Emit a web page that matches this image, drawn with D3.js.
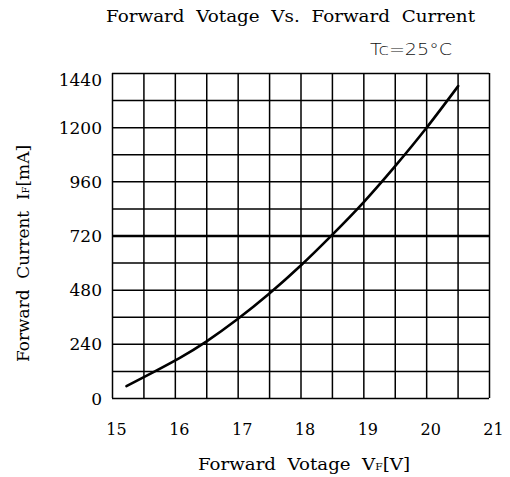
<!DOCTYPE html>
<html>
<head>
<meta charset="utf-8">
<script src="https://cdn.jsdelivr.net/npm/d3@7"></script>
<style>
  html, body { margin: 0; padding: 0; background: #fff; }
  svg { display: block; }
</style>
</head>
<body>
<svg id="chart" width="510" height="477"></svg>
<script>
// Data
const voltage = [15.23, 15.66, 16.08, 16.5, 17.0, 17.5, 18.0, 18.5, 19.0, 19.5, 20.0, 20.51];
const current = [53, 115, 178, 250, 350, 462, 586, 722, 866, 1025, 1195, 1382];
const xTickLabels = [15, 16, 17, 18, 19, 20, 21];
const yTickLabels = [0, 240, 480, 720, 960, 1200, 1440];
const xGrid = d3.range(15, 21.01, 0.5);
const yGrid = d3.range(0, 1441, 120);

(function () {
const svg = d3.select("#chart");
const pL = 112, pR = 489, pT = 73, pB = 398;

const x = d3.scaleLinear().domain([15, 21]).range([pL, pR]);
const y = d3.scaleLinear().domain([0, 1440]).range([pB, pT]);

const serif = "'DejaVu Serif', 'Liberation Serif', serif";

// Grid
const gx = svg.append("g").attr("transform", `translate(0,${pB})`)
  .call(d3.axisBottom(x).tickValues(xGrid).tickSize(-(pB - pT)).tickFormat(""));
gx.select(".domain").remove();
gx.selectAll("line").attr("stroke", "#000").attr("stroke-width", 1.5);

const gy = svg.append("g").attr("transform", `translate(${pL},0)`)
  .call(d3.axisLeft(y).tickValues(yGrid).tickSize(-(pR - pL)).tickFormat(""));
gy.select(".domain").remove();
gy.selectAll("line").attr("stroke", "#000")
  .attr("stroke-width", d => d === 720 ? 2.3 : 1.5);

// X tick labels
const xl = svg.append("g").attr("transform", `translate(0,${pB})`)
  .call(d3.axisBottom(x).tickValues(xTickLabels).tickSize(0).tickPadding(26).tickFormat(d3.format("d")));
xl.select(".domain").remove();
xl.selectAll("text").attr("font-family", serif).attr("font-size", 16).attr("fill", "#000").attr("dx", 4);

// Y tick labels
const yl = svg.append("g").attr("transform", `translate(${pL},0)`)
  .call(d3.axisLeft(y).tickValues(yTickLabels).tickSize(0).tickPadding(10).tickFormat(d3.format("d")));
yl.select(".domain").remove();
yl.selectAll("text").attr("font-family", serif).attr("font-size", 17).attr("fill", "#000")
  .attr("dy", d => d === 1440 ? "0.75em" : "0.36em");

// Curve
const line = d3.line().x(d => x(d[0])).y(d => y(d[1])).curve(d3.curveNatural);
svg.append("path")
  .datum(d3.zip(voltage, current))
  .attr("d", line)
  .attr("fill", "none")
  .attr("stroke", "#000")
  .attr("stroke-width", 2.6)
  .attr("stroke-linecap", "round");

// Title
svg.append("text").attr("x", 106).attr("y", 22)
  .attr("font-family", serif).attr("font-size", 17).attr("fill", "#000")
  .attr("textLength", 369).attr("lengthAdjust", "spacingAndGlyphs")
  .attr("xml:space", "preserve")
  .text("Forward  Votage  Vs.  Forward  Current");

// Tc=25°C
svg.append("text").attr("x", 370).attr("y", 55)
  .attr("font-family", "'DejaVu Sans', 'Liberation Sans', sans-serif").attr("font-size", 16)
  .attr("font-weight", 300).attr("fill", "#111")
  .attr("textLength", 82).attr("lengthAdjust", "spacingAndGlyphs")
  .text("Tc=25°C");

// X axis title
const xt = svg.append("text").attr("x", 198).attr("y", 470)
  .attr("font-family", serif).attr("font-size", 17).attr("fill", "#000")
  .attr("textLength", 212).attr("lengthAdjust", "spacingAndGlyphs")
  .attr("xml:space", "preserve");
xt.append("tspan").text("Forward  Votage  V");
xt.append("tspan").attr("font-size", 10).text("F");
xt.append("tspan").text("[V]");

// Y axis title
const yt = svg.append("text")
  .attr("transform", "translate(29,362) rotate(-90)")
  .attr("font-family", serif).attr("font-size", 17).attr("fill", "#000")
  .attr("textLength", 217).attr("lengthAdjust", "spacingAndGlyphs")
  .attr("xml:space", "preserve");
yt.append("tspan").text("Forward  Current  I");
yt.append("tspan").attr("font-size", 10).text("F");
yt.append("tspan").text("[mA]");
})();
</script>
</body>
</html>
